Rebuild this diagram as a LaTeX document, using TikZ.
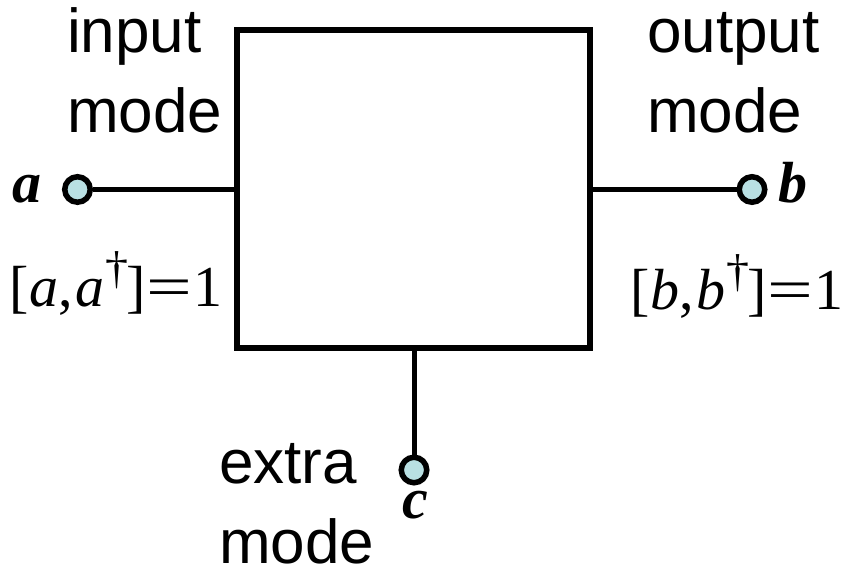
\documentclass[tikz,border=0pt]{standalone}
\usepackage{fontspec}
\setmainfont{Liberation Serif}
\setsansfont{Liberation Sans}
\usepackage{graphicx}
\usetikzlibrary{positioning}
\definecolor{portblue}{HTML}{B9E0E3}
% commutator [x,x^dagger]=1 set in text mode
\newcommand{\commrel}[1]{[\kern1pt\textit{#1},\kern2pt\textit{#1}\kern1pt\raisebox{23pt}{\fontsize{46}{46}\selectfont †}\kern-2pt]\kern1pt\scalebox{1.4}[1]{=}\kern1pt1}

\begin{document}
\begin{tikzpicture}[
  x=1pt,y=1pt,
  port/.style={circle,draw,line width=5.5pt,fill=portblue,minimum size=25.5pt,inner sep=0pt},
  lead/.style={line width=5pt},
  modetext/.style={font=\sffamily\fontsize{62}{80}\selectfont,align=left,inner sep=0pt},
  opname/.style={font=\bfseries\itshape\fontsize{58}{60}\selectfont,inner sep=0pt},
  relation/.style={font=\fontsize{58}{60}\selectfont,inner sep=0pt}
]
  \useasboundingbox (0,0) rectangle (846,576);
  % the device
  \node[draw,line width=5.5pt,minimum width=353pt,minimum height=318pt,inner sep=0pt] (box) at (413.5,387) {};
  % ports
  \node[port] (a) at (77.5,386.5) {};
  \node[port] (b) at (752,386.5) {};
  \node[port] (c) at (414,106) {};
  \draw[lead] (a) -- (a -| box.west);
  \draw[lead] (b -| box.east) -- (b);
  \draw[lead] (c |- box.south) -- (c);
  % labels
  \node[modetext,anchor=base west] (inmode) at (67,443) {input\\mode};
  \node[modetext,anchor=base west] (outmode) at (647,443) {output\\mode};
  \node[modetext,anchor=base west] (extramode) at (219,13) {extra\\mode};
  \node[opname,anchor=base] (aname) at (27,373) {a};
  \node[opname,anchor=base west] (bname) at (778,373) {b};
  \node[opname,anchor=base] (cname) at (415,58) {c};
  \node[relation,anchor=base west] (arel) at (9,269) {\commrel{a}};
  \node[relation,anchor=base west] (brel) at (630,266) {\commrel{b}};
\end{tikzpicture}
\end{document}
